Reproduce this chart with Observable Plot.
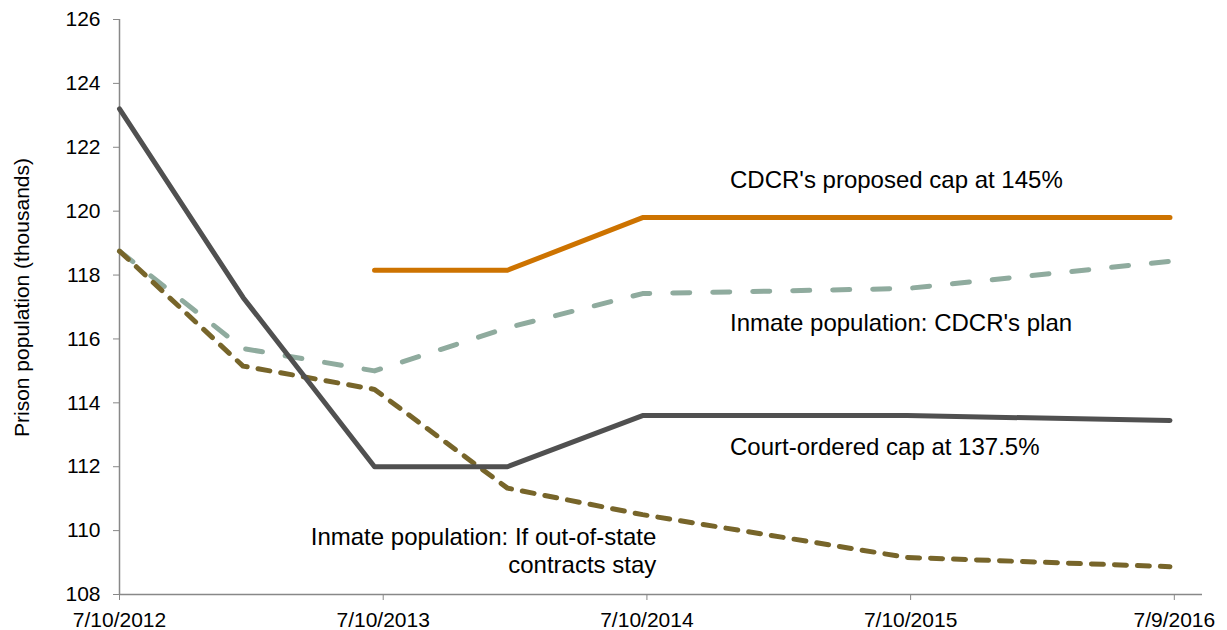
<!DOCTYPE html>
<html><head><meta charset="utf-8">
<script src="https://cdn.jsdelivr.net/npm/d3@7"></script>
<script src="https://cdn.jsdelivr.net/npm/@observablehq/plot@0.6"></script>
<style>html,body{margin:0;padding:0;background:#fff}#chart svg{display:block}</style>
</head><body><div id="chart"></div>
<script>
// ---- data ----
const dates = ["2012-07-10","2012-12-28","2013-06-28","2013-12-29","2014-07-04","2015-07-05","2016-07-03"];
const courtCap   = [123.2, 117.3, 112.0, 112.0, 113.6, 113.6, 113.45];
const cdcrCap    = [null,  null,  118.15, 118.15, 119.8, 119.8, 119.8];
const cdcrPlan   = [118.75, 115.7, 115.0, 116.35, 117.42, 117.58, 118.43];
const outOfState = [118.75, 115.15, 114.42, 111.33, 110.5, 109.16, 108.87];
const seriesNames = ["Court-ordered cap at 137.5%", "CDCR's proposed cap at 145%", "Inmate population: CDCR's plan", "Inmate population: If out-of-state contracts stay"];
const xTickDates = ["2012-07-10","2013-07-10","2014-07-10","2015-07-10","2016-07-09"];
const yTicks = [108,110,112,114,116,118,120,122,124,126];
const yLabel = "Prison population (thousands)";
const labelTexts = ["CDCR's proposed cap at 145%", "Inmate population: CDCR's plan", "Court-ordered cap at 137.5%", "Inmate population: If out-of-state\ncontracts stay"];
const labelDates = ["2014-11-02","2014-11-02","2014-11-02","2014-07-23"];
const labelValues = [120.74, 116.26, 112.38, 108.66];

// ---- build ----
const parse = d3.utcParse("%Y-%m-%d");
const fmt = d => `${d.getUTCMonth()+1}/${d.getUTCDate()}/${d.getUTCFullYear()}`;
const seriesValues = [courtCap, cdcrCap, cdcrPlan, outOfState];
const rows = [];
seriesNames.forEach((s, i) => seriesValues[i].forEach((v, j) => {
  if (v != null) rows.push({series: s, date: parse(dates[j]), value: v});
}));
const xTicks = xTickDates.map(parse);
const xMin = parse("2012-07-10"), xMax = parse("2016-08-17");
const labels = labelTexts.map((t, i) => ({text: t, date: parse(labelDates[i]), value: labelValues[i]}));

const styles = {
  [seriesNames[0]]: {stroke: "#505050", strokeWidth: 5},
  [seriesNames[1]]: {stroke: "#cd7300", strokeWidth: 5},
  [seriesNames[2]]: {stroke: "#8fab9e", strokeWidth: 5, strokeDasharray: "17,23"},
  [seriesNames[3]]: {stroke: "#77652a", strokeWidth: 5, strokeDasharray: "12,11"}
};
const lineMark = s => Plot.line(rows.filter(d => d.series === s), {
  x: "date", y: "value", strokeLinecap: "round", strokeLinejoin: "round", ...styles[s]
});

const chart = Plot.plot({
  width: 1227, height: 630,
  marginLeft: 119, marginRight: 25, marginTop: 19, marginBottom: 36,
  style: {fontFamily: "'Liberation Sans', Arial, sans-serif", fontSize: "21px", color: "#000", background: "#fff"},
  x: {type: "utc", domain: [xMin, xMax]},
  y: {domain: [108, 126]},
  marks: [
    Plot.ruleY([108], {stroke: "#888", strokeWidth: 1.5}),
    Plot.ruleX([xMin], {stroke: "#888", strokeWidth: 1.5}),
    Plot.axisY(yTicks, {tickSize: 6, tickPadding: 13, fontSize: 21, stroke: "#888", fill: "#000", label: null}),
    Plot.axisX(xTicks, {tickSize: 6, tickPadding: 12, fontSize: 21, stroke: "#888", fill: "#000", label: null, tickFormat: fmt}),
    lineMark(seriesNames[2]),
    lineMark(seriesNames[3]),
    lineMark(seriesNames[0]),
    lineMark(seriesNames[1]),
    Plot.text([yLabel], {frameAnchor: "left", rotate: -90, dx: -91, dy: -9.5, textAnchor: "middle", lineAnchor: "bottom", fontSize: 21, fill: "#000"}),
    Plot.text(labels.slice(0, 3), {x: "date", y: "value", text: "text", textAnchor: "start", lineAnchor: "bottom", fontSize: 24, fill: "#000"}),
    Plot.text(labels.slice(3), {x: "date", y: "value", text: "text", textAnchor: "end", lineAnchor: "bottom", lineHeight: 1.167, fontSize: 24, fill: "#000"})
  ]
});
document.getElementById("chart").appendChild(chart);
</script>
</body></html>
